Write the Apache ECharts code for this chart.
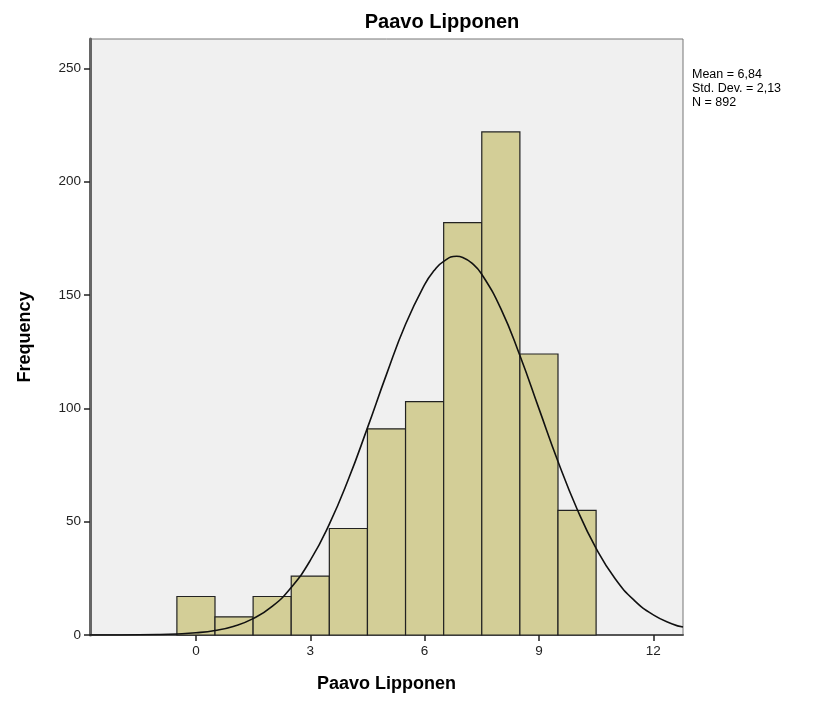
<!DOCTYPE html>
<html><head><meta charset="utf-8">
<script src="https://cdn.jsdelivr.net/npm/echarts@6/dist/echarts.min.js"></script>
<style>html,body{margin:0;padding:0;background:#fff}#c{width:817px;height:701px}</style>
</head><body><div id="c"></div>
<script>
const binCenters = [0,1,2,3,4,5,6,7,8,9,10];
const binCounts = [17,8,17,26,47,91,103,182,222,124,55];
const curveX = [-2.78,-2,-1,-0.5,0,0.5,1,1.5,2,2.5,3,3.5,4,4.5,5,5.5,6,6.25,6.5,6.84,7,7.25,7.5,8,8.5,9,9.5,10,10.5,11,11.5,12,12.5,12.78];
const curveY = [0.01,0.03,0.19,0.44,0.96,1.99,3.89,7.21,12.6,21.0,32.9,48.9,68.7,91.4,115.0,137.1,154.6,160.8,164.9,167.1,166.6,164.0,159.2,144.0,123.3,99.9,76.6,55.6,38.2,24.8,15.3,8.9,4.9,3.5];
const xTicks = [0,3,6,9,12];
const yTicks = [0,50,100,150,200,250];
const statsText = ['Mean = 6,84','Std. Dev. = 2,13','N = 892'];

const chart = echarts.init(document.getElementById('c'), null, {renderer:'canvas'});
const font = '"Liberation Sans", Arial, sans-serif';
chart.setOption({
  animation:false,
  title:{text:'Paavo Lipponen', left:437, top:7, textAlign:'center',
    textStyle:{fontFamily:font, fontSize:20, fontWeight:'bold', color:'#000'}},
  grid:{left:90, right:134, top:39, bottom:66, show:true, backgroundColor:'#f0f0f0', borderColor:'#777', borderWidth:1},
  graphic:[{type:'text', left:692, top:68, style:{text:statsText.join('\n'), font:'12.5px '+font, fill:'#000', lineHeight:14}}],
  xAxis:{type:'value', min:-2.78, max:12.78,
    name:'Paavo Lipponen', nameLocation:'middle', nameGap:40,
    nameTextStyle:{fontFamily:font, fontSize:18, fontWeight:'bold', color:'#000'},
    axisLine:{show:true, onZero:false, lineStyle:{color:'#555', width:2}},
    axisTick:{show:true, customValues:xTicks, length:6, lineStyle:{color:'#222', width:1.5}},
    axisLabel:{customValues:xTicks, fontFamily:font, fontSize:13.5, color:'#222', margin:9},
    splitLine:{show:false}},
  yAxis:{type:'value', min:0, max:263,
    name:'Frequency', nameLocation:'middle', nameGap:56, nameRotate:90,
    nameTextStyle:{fontFamily:font, fontSize:18, fontWeight:'bold', color:'#000'},
    axisLine:{show:true, onZero:false, lineStyle:{color:'#666', width:3}},
    axisTick:{show:true, customValues:yTicks, length:6, lineStyle:{color:'#222', width:1.5}},
    axisLabel:{customValues:yTicks, fontFamily:font, fontSize:13.5, color:'#222', margin:9},
    splitLine:{show:false}},
  series:[
    {type:'custom', data:binCenters.map((c,i)=>[c,binCounts[i]]),
     renderItem:function(params, api){
       const c = api.value(0), v = api.value(1);
       const p1 = api.coord([c-0.5, v]), p2 = api.coord([c+0.5, 0]);
       return {type:'rect', shape:{x:p1[0], y:p1[1], width:p2[0]-p1[0], height:p2[1]-p1[1]},
         style:{fill:'#d3ce97', stroke:'#222', lineWidth:1.2}};
     }, z:2},
    {type:'line', data:curveX.map((x,i)=>[x,curveY[i]]), smooth:0.5, showSymbol:false,
     lineStyle:{color:'#111', width:1.6}, z:3}
  ]
});
</script></body></html>
